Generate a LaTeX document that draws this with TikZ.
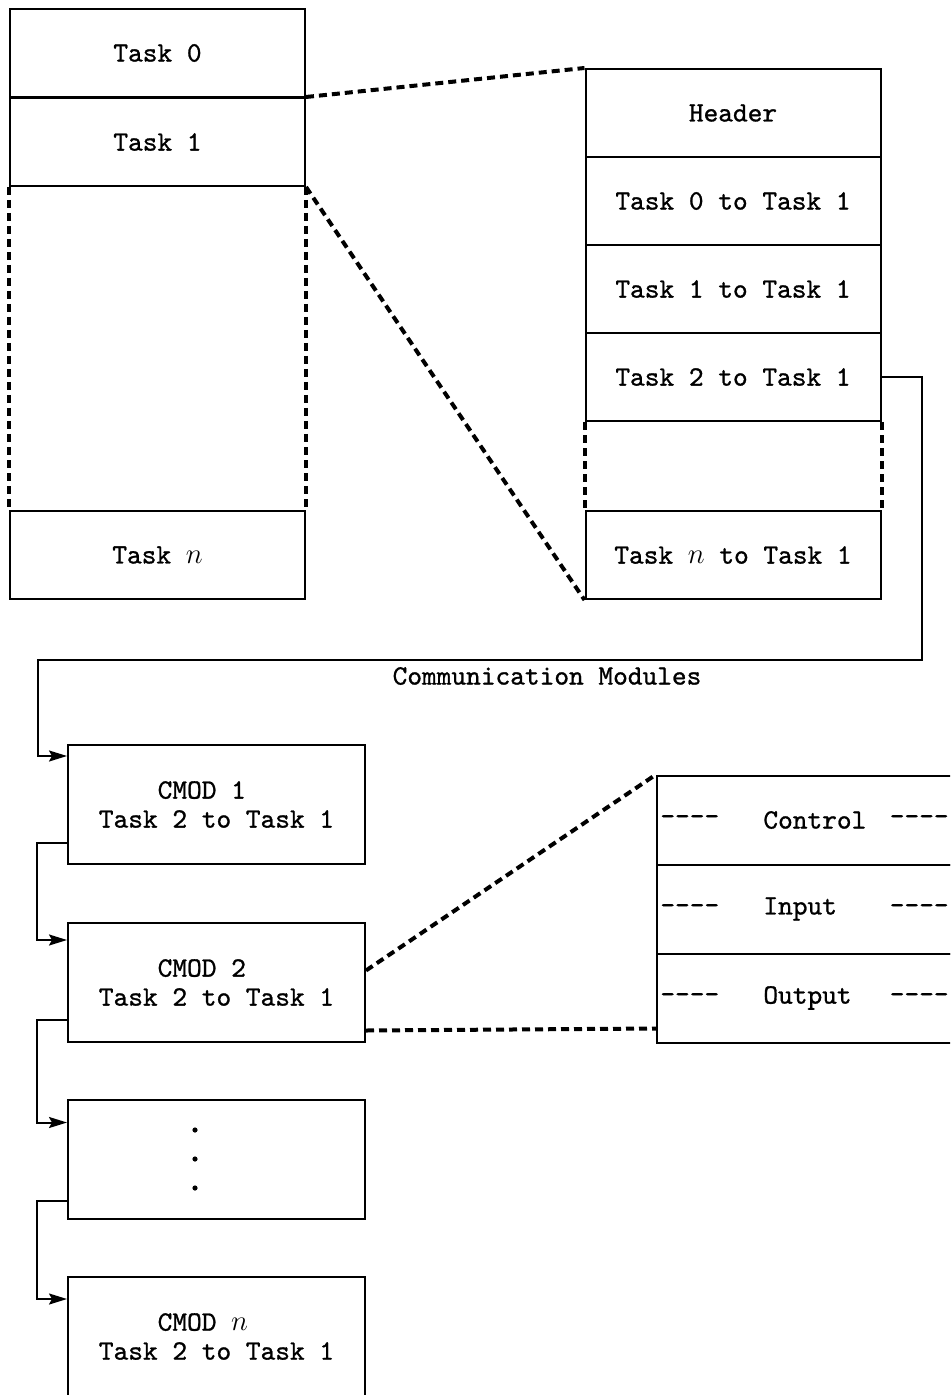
\documentclass[tikz,border=0pt]{standalone}
\usepackage{fontspec}
\setmonofont{lmmono10-regular.otf}[FakeBold=1]
\usetikzlibrary{arrows.meta}
\newcommand{\memfont}{\ttfamily\fontsize{14}{14.5}\selectfont}

\begin{document}
\begin{tikzpicture}[
        x=0.5pt, y=-0.5pt,
        slot/.style={rectangle, draw=black, line width=1pt, minimum width=147.5pt, minimum height=44pt, inner sep=0pt, align=center, font=\memfont},
        cmod/.style={rectangle, draw=black, line width=1pt, minimum width=148.5pt, minimum height=59.5pt, inner sep=0pt, align=left, font=\memfont},
        part/.style={rectangle, draw=black, line width=1pt, minimum width=160pt, minimum height=44.5pt, inner sep=0pt},
        tag/.style={anchor=west, inner sep=0pt, font=\memfont},
        zoomline/.style={line width=2pt, dash pattern=on 4pt off 2.5pt},
        arrow/.style={-{Stealth[length=9pt, width=5.5pt, inset=1.5pt]}, line width=1pt}
    ]
        \useasboundingbox (0,0) rectangle (950,1395);
        \clip (0,0) rectangle (950,1395);

        % Task table (left column)
        \node[slot] (task0) at (157.5,53) {Task 0};
        \node[slot] (task1) at (157.5,142) {Task 1};
        \node[slot] (taskn) at (157.5,555) {Task $n$};
        \draw[zoomline] (task1.south west) -- (taskn.north west);
        \draw[zoomline] (task1.south east) -- (taskn.north east);

        % Task 1 expanded (right column)
        \node[slot] (header) at (733,113) {Header};
        \node[slot] (t01) at (733,201) {Task 0 to Task 1};
        \node[slot] (t11) at (733,289) {Task 1 to Task 1};
        \node[slot] (t21) at (733,377) {Task 2 to Task 1};
        \node[slot] (tn1) at (733,555) {Task $n$ to Task 1};
        \draw[zoomline] (t21.south west) -- (tn1.north west);
        \draw[zoomline] (t21.south east) -- (tn1.north east);

        % Zoom lines from Task 1
        \draw[zoomline] (task1.north east) -- (header.north west);
        \draw[zoomline] (task1.south east) -- (tn1.south west);

        % Communication modules chain
        \node[font=\memfont] (commlabel) at (547,676) {Communication Modules};
        \node[cmod] (cmod1) at (216.5,804.5) {\phantom{0000}CMOD 1\\Task 2 to Task 1};
        \node[cmod] (cmod2) at (216.5,982.5) {\phantom{0000}CMOD 2\\Task 2 to Task 1};
        \node[cmod] (dotsbox) at (216.5,1159) {};
        \node[cmod] (cmodn) at (216.5,1336.5) {\phantom{0000}CMOD $n$\\Task 2 to Task 1};
        \foreach \k in {-1,0,1}
            \fill ([xshift=-10.75pt, yshift=\k*14.5pt]dotsbox.center) circle (1.3pt);

        \coordinate (turn) at (922,660);
        \coordinate (drop) at (38,660);
        \draw[arrow] (t21.east) -| (turn) -- (drop) |- ([yshift=-6pt]cmod1.north west);
        \draw[arrow] ([yshift=11pt]cmod1.south west) -- ++(-15pt,0) |- ([yshift=-9pt]cmod2.north west);
        \draw[arrow] ([yshift=11.5pt]cmod2.south west) -- ++(-15pt,0) |- ([yshift=-12pt]dotsbox.north west);
        \draw[arrow] ([yshift=9.5pt]dotsbox.south west) -- ++(-15pt,0) |- ([yshift=-11.5pt]cmodn.north west);

        % CMOD 2 expanded
        \node[part] (ctrl) at (817,820) {};
        \node[part] (input) at (817,909) {};
        \node[part] (output) at (817,998) {};
        \foreach \row/\txt in {ctrl/Control, input/Input, output/Output} {
            \node[tag] (\row-l) at ({(660,0)} |- \row.center) {----};
            \node[tag] (\row-t) at ({(763,0)} |- \row.center) {\txt};
            \node[tag, anchor=east] (\row-r) at ({(949,0)} |- \row.center) {----};
        }
        \draw[zoomline] ([yshift=6pt]cmod2.east) -- (ctrl.north west);
        \draw[zoomline] ([yshift=-24pt]cmod2.east) -- ([yshift=7.5pt]output.south west);
    \end{tikzpicture}
\end{document}
